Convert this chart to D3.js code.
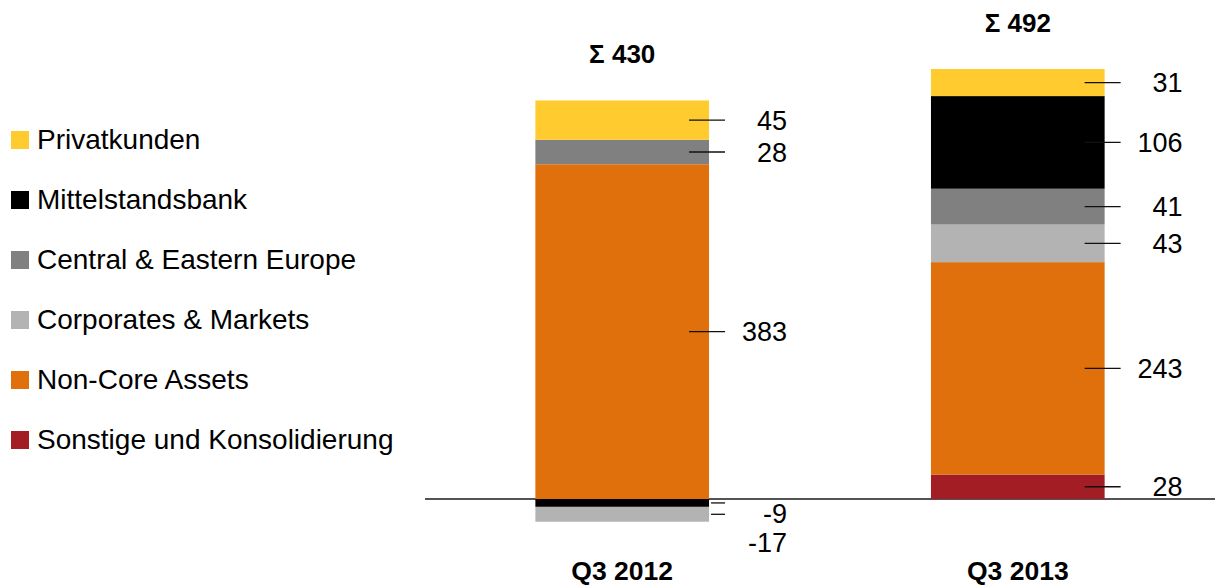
<!DOCTYPE html>
<html>
<head>
<meta charset="utf-8">
<script src="https://cdn.jsdelivr.net/npm/d3@7"></script>
<style>
  html, body { margin: 0; padding: 0; background: #fff; }
  svg { display: block; font-family: "Liberation Sans", Arial, sans-serif; }
</style>
</head>
<body>
<svg id="chart" width="1215" height="588"></svg>
<script>
// ---- data ----
const quarters = ['Q3 2012', 'Q3 2013'];
const segments = ['Privatkunden', 'Mittelstandsbank', 'Central & Eastern Europe', 'Corporates & Markets', 'Non-Core Assets', 'Sonstige und Konsolidierung'];
const segColors = ['#FFCB2F', '#000000', '#808080', '#B3B3B3', '#E0700B', '#A31E24'];
// positive stacking order from the baseline upward
const stackOrder = ['Sonstige und Konsolidierung', 'Non-Core Assets', 'Corporates & Markets', 'Central & Eastern Europe', 'Mittelstandsbank', 'Privatkunden'];
// negative stacking order from the baseline downward
const negOrder = ['Mittelstandsbank', 'Corporates & Markets', 'Central & Eastern Europe', 'Privatkunden', 'Non-Core Assets', 'Sonstige und Konsolidierung'];
const values2012 = [45, -9, 28, -17, 383, 0];
const values2013 = [31, 106, 41, 43, 243, 28];
const totals = [430, 492];

const W = 1215, H = 588;
const svg = d3.select('#chart');
const color = d3.scaleOrdinal().domain(segments).range(segColors);

const x = d3.scaleBand().domain(quarters).range([425, 1215]).paddingInner(0.561).paddingOuter(0.279);
const y = d3.scaleLinear().domain([0, 500]).range([499, 62]);

const series = [values2012, values2013];

// baseline
svg.append('line')
  .attr('x1', 425).attr('x2', W)
  .attr('y1', y(0)).attr('y2', y(0))
  .attr('stroke', '#1a1a1a').attr('stroke-width', 1.3);

quarters.forEach((q, qi) => {
  const vals = series[qi];
  const bx = x(q), bw = x.bandwidth(), right = bx + bw;
  const parts = [];
  let pos = 0, neg = 0;
  stackOrder.forEach((s) => {
    const v = vals[segments.indexOf(s)];
    if (v > 0) { parts.push({ s, v, y0: pos, y1: pos + v }); pos += v; }
  });
  negOrder.forEach((s) => {
    const v = vals[segments.indexOf(s)];
    if (v < 0) { parts.push({ s, v, y0: neg, y1: neg + v }); neg += v; }
  });

  const g = svg.append('g');
  g.selectAll('rect').data(parts).join('rect')
    .attr('x', bx).attr('width', bw)
    .attr('y', (d) => y(Math.max(d.y0, d.y1)))
    .attr('height', (d) => Math.abs(y(d.y0) - y(d.y1)))
    .attr('fill', (d) => color(d.s));

  // label positions (negatives pushed down to avoid overlap)
  let lastNeg = y(0) + 14 - 29;
  parts.forEach((d) => {
    d.mid = (y(d.y0) + y(d.y1)) / 2;
    if (d.v < 0) { d.ly = Math.max(d.mid, lastNeg + 29); lastNeg = d.ly; }
    else d.ly = d.mid;
  });

  g.selectAll('line.leader').data(parts).join('line')
    .attr('class', 'leader')
    .attr('x1', (d) => d.v < 0 ? right + 2 : right - 20)
    .attr('x2', right + 16)
    .attr('y1', (d) => d.mid).attr('y2', (d) => d.mid)
    .attr('stroke', '#111').attr('stroke-width', 1.3);

  g.selectAll('text.val').data(parts).join('text')
    .attr('class', 'val')
    .attr('x', right + 78)
    .attr('y', (d) => d.ly)
    .attr('dy', '0.36em')
    .attr('text-anchor', 'end')
    .attr('font-size', 27)
    .attr('fill', '#000')
    .text((d) => d.v);

  // total
  svg.append('text')
    .attr('x', bx + bw / 2)
    .attr('y', y(pos) - 37)
    .attr('text-anchor', 'middle')
    .attr('font-size', 26).attr('font-weight', 'bold')
    .text('Σ ' + totals[qi]);

  // category
  svg.append('text')
    .attr('x', bx + bw / 2)
    .attr('y', y(0) + 81)
    .attr('text-anchor', 'middle')
    .attr('font-size', 26.5).attr('font-weight', 'bold')
    .text(q);
});

// legend
const legend = svg.append('g');
const row = legend.selectAll('g').data(segments).join('g')
  .attr('transform', (d, i) => `translate(11,${131 + i * 60})`);
row.append('rect').attr('width', 18).attr('height', 18).attr('fill', (d) => color(d));
row.append('text').attr('x', 26).attr('y', 18).attr('font-size', 28).attr('fill', '#000').text((d) => d);
</script>
</body>
</html>
